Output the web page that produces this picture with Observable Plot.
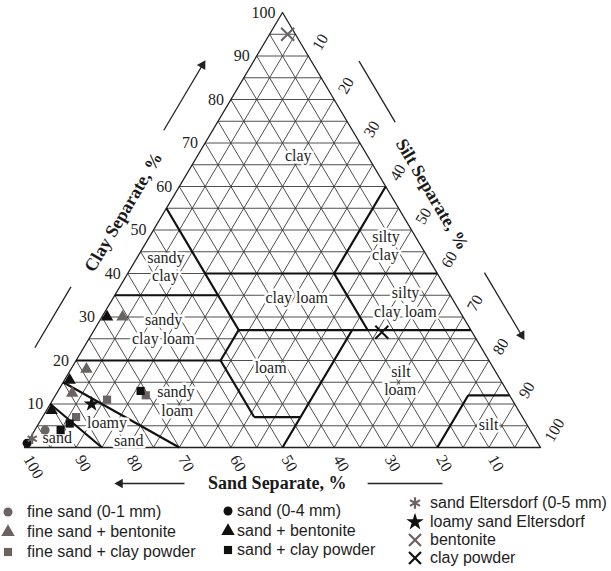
<!DOCTYPE html>
<html>
<head>
<meta charset="utf-8">
<script src="https://cdn.jsdelivr.net/npm/d3@7"></script>
<script src="https://cdn.jsdelivr.net/npm/@observablehq/plot@0.6"></script>
<style>
html,body{margin:0;padding:0;background:#fff;}
#wrap{position:relative;width:611px;height:571px;overflow:hidden;background:#fff;}
#chart svg{display:block;}
.lg{position:absolute;font-family:"Liberation Sans",Arial,sans-serif;font-size:16px;color:#1e1e1e;line-height:18px;white-space:nowrap;}
.ls{position:absolute;overflow:visible;}
</style>
</head>
<body>
<div id="wrap"><div id="chart"></div></div>
<script>
// ---------------- data ----------------
const gridSteps = [5,10,15,20,25,30,35,40,45,50,55,60,65,70,75,80,85,90,95];
const clayTicks = [10,20,30,40,50,60,70,80,90,100];
const siltTicks = [10,20,30,40,50,60,70,80,90,100];
const sandTicks = [100,90,80,70,60,50,40,30,20,10];

// USDA texture class boundaries, each segment [sand, silt, clay] -> [sand, silt, clay]
const boundarySegments = [
  [[45,0,55],[45,20,35]],
  [[45,15,40],[20,40,40]],
  [[20,40,40],[0,40,60]],
  [[20,40,40],[0,60,40]],
  [[65,0,35],[45,20,35]],
  [[45,20,35],[45,28,27]],
  [[20,40,40],[20,53,27]],
  [[45,28,27],[0,73,27]],
  [[80,0,20],[52,28,20]],
  [[52,28,20],[45,28,27]],
  [[52,28,20],[52,41,7]],
  [[52,41,7],[43,50,7]],
  [[23,50,27],[50,50,0]],
  [[8,80,12],[0,88,12]],
  [[8,80,12],[20,80,0]],
  [[85,0,15],[70,30,0]],
  [[90,0,10],[85,15,0]]
];

// texture class labels (position given as clay %, silt %)
const classLabels    = ["clay","silty","clay","sandy","clay","clay loam","silty","clay loam","sandy","clay loam","loam","sandy","loam","silt","loam","silt","loamy","sand","sand"];
const classLabelClay = [67.1, 48.5, 44.3, 43.6, 39.4, 34.3, 35.5, 31.2, 29.3, 25.0, 18.2, 12.7, 8.4, 17.3, 13.2, 5.1, 5.6, 1.6, 2.3];
const classLabelSilt = [19.5, 45.8, 47.8, 5.6, 7.6, 35.6, 56.1, 58.2, 12.3, 14.4, 38.6, 23.0, 25.4, 64.3, 66.2, 87.4, 13.2, 19.4, 5.2];

// axis titles and their decorations (percent along each side)
const axisTitles = ["Clay Separate, %", "Silt Separate, %", "Sand Separate, %"];
const titleAt = [50, 46, 51];
const clayArrow = [68, 83], clayBar = [18, 32];
const siltBar = [16, 30], siltArrow = [64.6, 79];
const sandArrow = [69, 81.5], sandBar = [33.5, 19];

// measured samples
const seriesNames   = ["fine sand (0-1 mm)","fine sand + bentonite","fine sand + clay powder","sand (0-4 mm)","sand + bentonite","sand + clay powder","sand Eltersdorf (0-5 mm)","loamy sand Eltersdorf","bentonite","clay powder"];
const seriesSymbols = ["circle","triangle","square","circle","triangle","square","asterisk","star","times","times"];
const seriesShade   = ["gray","gray","gray","black","black","black","gray","black","gray","black"];
const seriesClay = [[4],[30,18,12.5],[11,7,12],[1],[30,15.5,8.5],[13,4,5.5],[2],[10],[95],[26.5]];
const seriesSilt = [[2],[4,3,3],[10.5,6.5,17.5],[0],[1,1,1],[16,5,6],[0.5],[8],[3.5],[56]];

// ---------------- styling / geometry ----------------
const GRAY = "#6b6262", BLACK = "#111";
const SERIF = "'Liberation Serif','Times New Roman',serif";
const X0 = 24, X1 = 540, YB = 447, YT = 12;
const ex = (X1 - X0) / 2, ey = (YB - YT), el = Math.hypot(ex, ey);
const ux = ex / el, uy = ey / el;
const edgeAngle = Math.atan2(ey, ex) * 180 / Math.PI;

const tern = (clay, silt) => ({x: silt + clay / 2, y: clay});
const leftPt = c => ({x: c / 2, y: c});
const rightPt = t => ({x: 50 + t / 2, y: 100 - t});
const bottomPt = s => ({x: 100 - s, y: 0});

const gridLines = [];
for (const v of gridSteps) {
  gridLines.push({x1: v / 2, y1: v, x2: 100 - v / 2, y2: v});
  gridLines.push({x1: 100 - v, y1: 0, x2: (100 - v) / 2, y2: 100 - v});
  gridLines.push({x1: v, y1: 0, x2: v + (100 - v) / 2, y2: 100 - v});
}
const outline = [{x:0,y:0},{x:50,y:100},{x:100,y:0},{x:0,y:0}];
const boundaryLines = boundarySegments.map(([a, b]) => {
  const p = tern(a[2], a[1]), q = tern(b[2], b[1]);
  return {x1: p.x, y1: p.y, x2: q.x, y2: q.y};
});
const labelData = classLabels.map((t, i) => ({text: t, ...tern(classLabelClay[i], classLabelSilt[i])}));

const seg = (f, r) => ({x1: f(r[0]).x, y1: f(r[0]).y, x2: f(r[1]).x, y2: f(r[1]).y});

const decoStroke = {stroke: "#222", strokeWidth: 1.3};
const L = {dx: -uy * 42, dy: -ux * 42};
const R = {dx: uy * 41, dy: -ux * 41};
const B = {dx: 0, dy: 36};

const pointMarks = [];
seriesNames.forEach((name, i) => {
  const data = seriesClay[i].map((c, j) => tern(c, seriesSilt[i][j]));
  const color = seriesShade[i] === "gray" ? GRAY : BLACK;
  const sym = seriesSymbols[i];
  const rr = {circle: 4.5, triangle: 4.6, square: 4.6, star: 5, asterisk: 5, times: 6}[sym];
  if (sym === "asterisk" || sym === "times") {
    pointMarks.push(Plot.dot(data, {x: "x", y: "y", symbol: sym, r: rr, stroke: color, strokeWidth: 2, fill: "none"}));
  } else {
    pointMarks.push(Plot.dot(data, {x: "x", y: "y", symbol: sym, r: rr, fill: color, stroke: "none"}));
  }
});

const chart = Plot.plot({
  width: 611, height: 490, margin: 0,
  style: {fontFamily: SERIF, background: "white", color: "#1a1a1a", overflow: "visible"},
  x: {domain: [0, 100], range: [X0, X1], axis: null},
  y: {domain: [0, 100], range: [YB, YT], axis: null},
  marks: [
    Plot.link(gridLines, {x1: "x1", y1: "y1", x2: "x2", y2: "y2", stroke: "#3a3a3a", strokeWidth: 0.9}),
    Plot.line(outline, {x: "x", y: "y", stroke: "#222", strokeWidth: 1.3}),
    Plot.link(boundaryLines, {x1: "x1", y1: "y1", x2: "x2", y2: "y2", stroke: "#111", strokeWidth: 2.2}),
    Plot.text(labelData, {x: "x", y: "y", text: "text", fontSize: 16, fill: "#1e1e1e", stroke: "white", strokeWidth: 5, paintOrder: "stroke", lineAnchor: "middle"}),
    // tick labels
    Plot.text(clayTicks, {x: c => leftPt(c).x, y: c => leftPt(c).y, text: d => String(d), textAnchor: "end", lineAnchor: "middle", dx: -7, fontSize: 16, fill: "#222"}),
    Plot.text(siltTicks, {x: t => rightPt(t).x, y: t => rightPt(t).y, text: d => String(d), textAnchor: "start", lineAnchor: "middle", rotate: -60, dx: 8, dy: -7, fontSize: 16, fill: "#222"}),
    Plot.text(sandTicks, {x: s => bottomPt(s).x, y: 0, text: d => String(d), textAnchor: "start", lineAnchor: "middle", rotate: 60, dx: 3, dy: 9, fontSize: 16, fill: "#222"}),
    // axis titles
    Plot.text([axisTitles[0]], {x: leftPt(titleAt[0]).x, y: leftPt(titleAt[0]).y, text: d => d, rotate: -edgeAngle, dx: -uy * 35, dy: -ux * 35, fontSize: 18, fontWeight: "bold", fill: "#1a1a1a"}),
    Plot.text([axisTitles[1]], {x: rightPt(titleAt[1]).x, y: rightPt(titleAt[1]).y, text: d => d, rotate: edgeAngle, dx: uy * 36, dy: -ux * 36, fontSize: 18, fontWeight: "bold", fill: "#1a1a1a"}),
    Plot.text([axisTitles[2]], {x: bottomPt(titleAt[2]).x, y: 0, text: d => d, dy: 36, fontSize: 18, fontWeight: "bold", fill: "#1a1a1a"}),
    // title decorations
    Plot.link([seg(leftPt, clayBar), seg(leftPt, clayArrow)], {x1: "x1", y1: "y1", x2: "x2", y2: "y2", ...L, ...decoStroke}),
    Plot.dot([clayArrow[1]], {x: c => leftPt(c).x, y: c => leftPt(c).y, symbol: "triangle", r: 3.6, fill: "#222", rotate: 90 - edgeAngle, ...L}),
    Plot.link([seg(rightPt, siltBar), seg(rightPt, siltArrow)], {x1: "x1", y1: "y1", x2: "x2", y2: "y2", ...R, ...decoStroke}),
    Plot.dot([siltArrow[1]], {x: t => rightPt(t).x, y: t => rightPt(t).y, symbol: "triangle", r: 3.6, fill: "#222", rotate: 90 + edgeAngle, ...R}),
    Plot.link([seg(bottomPt, sandBar), seg(bottomPt, sandArrow)], {x1: "x1", y1: "y1", x2: "x2", y2: "y2", ...B, ...decoStroke}),
    Plot.dot([sandArrow[1]], {x: s => bottomPt(s).x, y: 0, symbol: "triangle", r: 3.6, fill: "#222", rotate: -90, ...B}),
    ...pointMarks
  ]
});
document.getElementById("chart").appendChild(chart);

// ---------------- legend ----------------
const wrap = document.getElementById("wrap");
const cols = [
  {sym: 8, txt: 27, rows: [512, 532, 552]},
  {sym: 228, txt: 237, rows: [511, 531, 550]},
  {sym: 415, txt: 430, rows: [503, 522, 540, 558]}
];
const symTypes = {circle: d3.symbolCircle, triangle: d3.symbolTriangle, square: d3.symbolSquare, star: d3.symbolStar, asterisk: d3.symbolAsterisk, times: d3.symbolTimes};
const symR = {circle: 4.5, triangle: 5, square: 4.6, star: 5.5, asterisk: 5.5, times: 5.5};
seriesNames.forEach((name, i) => {
  const c = i < 3 ? 0 : i < 6 ? 1 : 2;
  const row = c === 2 ? i - 6 : i % 3;
  const col = cols[c];
  const cy = col.rows[row];
  const sym = seriesSymbols[i];
  const color = seriesShade[i] === "gray" ? GRAY : BLACK;
  const r = symR[sym];
  const path = d3.symbol(symTypes[sym], Math.PI * r * r)();
  const ns = "http://www.w3.org/2000/svg";
  const svg = document.createElementNS(ns, "svg");
  svg.setAttribute("class", "ls");
  svg.setAttribute("width", 20); svg.setAttribute("height", 20);
  svg.style.left = (col.sym - 10) + "px"; svg.style.top = (cy - 10) + "px";
  const p = document.createElementNS(ns, "path");
  p.setAttribute("d", path);
  p.setAttribute("transform", "translate(10,10)");
  if (sym === "asterisk" || sym === "times") {
    p.setAttribute("fill", "none"); p.setAttribute("stroke", color); p.setAttribute("stroke-width", 2.2);
  } else {
    p.setAttribute("fill", color);
  }
  svg.appendChild(p);
  wrap.appendChild(svg);
  const t = document.createElement("div");
  t.className = "lg";
  t.textContent = name;
  t.style.left = col.txt + "px"; t.style.top = (cy - 9) + "px";
  wrap.appendChild(t);
});
</script>
</body>
</html>
